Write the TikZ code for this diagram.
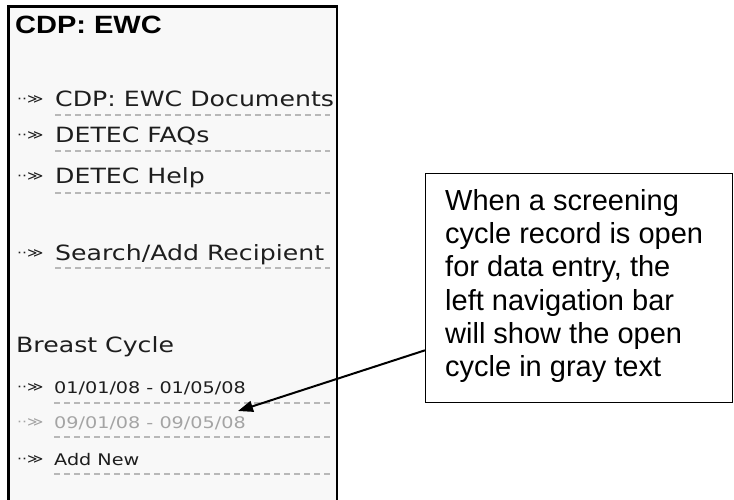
\documentclass[tikz,border=0pt]{standalone}
\usepackage{fontspec}
\setmainfont{Liberation Sans}
\newfontfamily\navfont[FakeStretch=1.2]{DejaVu Sans}
\newfontfamily\headfont[FakeStretch=1.16]{Liberation Sans}
\usetikzlibrary{arrows.meta}
\definecolor{panelbg}{HTML}{F8F8F8}
\definecolor{dashgray}{HTML}{B8B8B8}
\definecolor{opengray}{HTML}{A4A4A4}
\definecolor{navtext}{HTML}{1E1E1E}
\begin{document}
\begin{tikzpicture}[x=1pt,y=-1pt,
  navitem/.style={anchor=base west, inner sep=0pt, text=navtext, font=\navfont\fontsize{21}{21}\selectfont},
  navsmall/.style={anchor=base west, inner sep=0pt, text=navtext, font=\navfont\fontsize{16}{16}\selectfont},
  navhead/.style={anchor=base west, inner sep=0pt, text=black, font=\headfont\bfseries\fontsize{25}{25}\selectfont},
  bulletmark/.style={anchor=base west, inner sep=0pt, text=navtext, font=\navfont\fontsize{13}{13}\selectfont},
  navdash/.style={draw=dashgray, line width=1.5pt, dash pattern=on 6pt off 4pt},
  calloutbox/.style={draw=black, line width=1.3pt, fill=white, anchor=north west, inner sep=0pt, minimum width=307pt, minimum height=229pt},
  callouttext/.style={anchor=north west, inner sep=0pt, align=left, font=\fontsize{29}{33.3}\selectfont},
  pointer/.style={draw=black, line width=2pt, -{Triangle[length=15pt,width=11pt]}}
]
\useasboundingbox (0,0) rectangle (734,499);
\fill[white] (0,0) rectangle (734,499);
% navigation panel
\fill[panelbg] (8,6) rectangle (337,505);
\draw[line width=2.5pt] (8.5,505) -- (8.5,6.5) -- (337,6.5) -- (337,505);

\node[navhead] (hdr) at (15,33) {CDP: EWC};

\node[bulletmark] (b1) at (17,103) {··≫};
\node[navitem] (i1) at (55,106) {CDP: EWC Documents};
\draw[navdash] (55,115) -- (330,115);

\node[bulletmark] (b2) at (17,139) {··≫};
\node[navitem] (i2) at (55,142) {DETEC FAQs};
\draw[navdash] (55,151) -- (330,151);

\node[bulletmark] (b3) at (17,180) {··≫};
\node[navitem] (i3) at (55,183) {DETEC Help};
\draw[navdash] (55,193) -- (330,193);

\node[bulletmark] (b4) at (17,257) {··≫};
\node[navitem] (i4) at (55,260) {Search/Add Recipient};
\draw[navdash] (55,268) -- (330,268);

\node[navitem] (bc) at (16,352) {Breast Cycle};

\node[bulletmark] (b5) at (17,391) {··≫};
\node[navsmall] (d1) at (54,393) {01/01/08 - 01/05/08};
\draw[navdash] (54,403) -- (330,403);

\node[bulletmark, text=opengray] (b6) at (17,426) {··≫};
\node[navsmall, text=opengray] (d2) at (54,428) {09/01/08 - 09/05/08};
\draw[navdash] (54,437) -- (330,437);

\node[bulletmark] (b7) at (17,463) {··≫};
\node[navsmall] (d3) at (54,465) {Add New};
\draw[navdash] (54,474) -- (330,474);

% callout
\node[calloutbox] (callout) at (425,173) {};
\node[callouttext] (ctext) at (445,189) {When a screening\\cycle record is open\\for data entry, the\\left navigation bar\\will show the open\\cycle in gray text};
\path (callout.south west) ++(0,-53) coordinate (src);
\coordinate (tip) at (238,411);
\draw[pointer] (src) -- (tip);
\end{tikzpicture}
\end{document}
